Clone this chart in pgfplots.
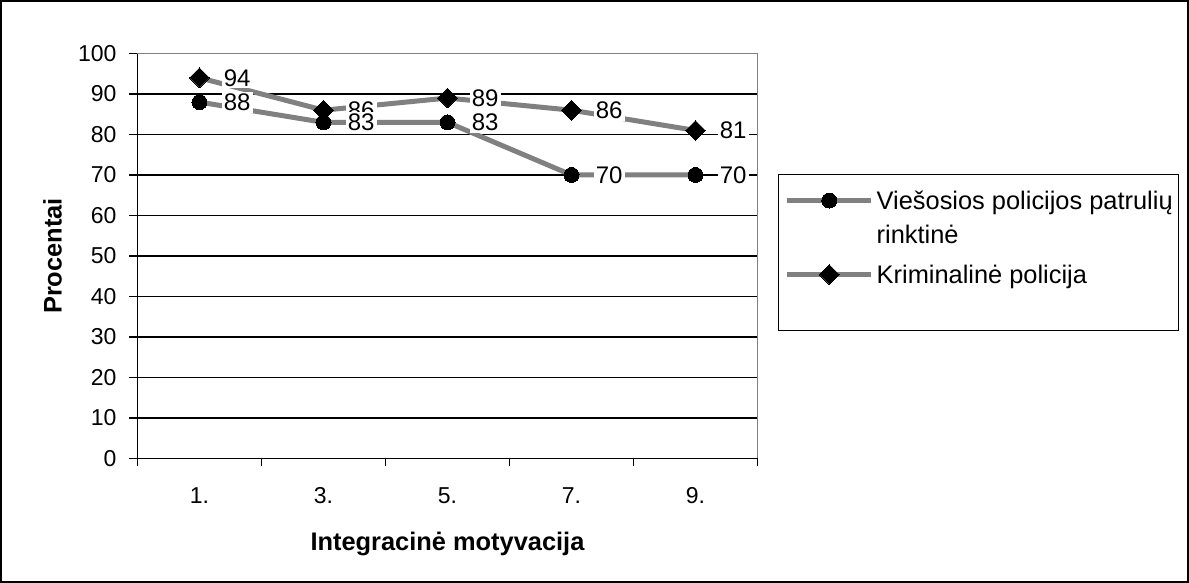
\documentclass[border=0pt]{standalone}
\usepackage{pgfplots}
\pgfplotsset{compat=1.18}
\usepackage{fontspec}
\setmainfont{Liberation Sans}
\definecolor{linegray}{RGB}{128,128,128}
\begin{document}
\begin{tikzpicture}
\useasboundingbox (0,0) rectangle (594.5pt,291.5pt);
\draw[line width=1.2pt] (0.6pt,0.6pt) rectangle (593.9pt,290.9pt);
\begin{axis}[
  at={(68.75pt,62.25pt)}, anchor=south west,
  scale only axis, width=310pt, height=202.5pt,
  xmin=0.5, xmax=5.5, ymin=0, ymax=100,
  clip=false,
  axis x line*=bottom, axis y line*=left,
  axis line style={black, line width=0.75pt, -},
  xtick={1,2,3,4,5}, xticklabels={1.,3.,5.,7.,9.},
  minor xtick={0.5,1.5,2.5,3.5,4.5,5.5},
  ytick={0,10,...,100},
  tick align=outside,
  major tick length=4pt, minor tick length=4pt,
  every tick/.style={black, line width=0.75pt},
  major x tick style={draw=none},
  ymajorgrids, major grid style={black, line width=0.75pt},
  /pgf/number format/assume math mode=true,
  tick label style={font=\fontsize{11.5}{13}\selectfont},
  yticklabel style={xshift=-3pt},
  xticklabel style={yshift=-7pt},
  xlabel={Integracinė motyvacija}, ylabel={Procentai},
  label style={font=\bfseries\fontsize{12.7}{15}\selectfont},
  xlabel style={at={(axis description cs:0.5,-0.212)}, anchor=center},
  ylabel style={at={(axis description cs:-0.137,0.5)}, anchor=center},
  legend style={at={(1.033,0.703)}, anchor=north west, draw=black, line width=0.75pt,
    inner xsep=3pt, inner ysep=6.5pt, column sep=1.5pt, row sep=0pt,
    font=\fontsize{12.7}{15}\selectfont, cells={anchor=base west}, nodes={inner sep=0pt}},
  after end axis/.code={\draw[linegray, line width=0.75pt] (rel axis cs:0,1) -- (rel axis cs:1,1) -- (rel axis cs:1,0);},
]
\addplot[color=linegray, line width=2.5pt, mark=*, mark size=3.75pt,
  mark options={fill=black, draw=black, line width=0pt},
  legend image code/.code={\path[draw=none,fill=none] (0pt,-4pt) rectangle (42pt,11pt);
    \draw[mark repeat=2,mark phase=2,yshift=4.5pt] plot coordinates {(0pt,0pt)(21pt,0pt)(42pt,0pt)};}]
  coordinates {(1,88)(2,83)(3,83)(4,70)(5,70)};
\addlegendentry{Viešosios policijos patrulių}
\addlegendimage{legend image code/.code={\path[draw=none,fill=none] (0pt,-9pt) rectangle (42pt,13pt);}}
\addlegendentry{rinktinė}
\addplot[color=linegray, line width=2.5pt, mark=square*, mark size=3.5pt,
  mark options={fill=black, draw=black, line width=0pt, rotate=45},
  legend image code/.code={\path[draw=none,fill=none] (0pt,-17pt) rectangle (42pt,11pt);
    \draw[mark repeat=2,mark phase=2,yshift=4.5pt] plot coordinates {(0pt,0pt)(21pt,0pt)(42pt,0pt)};}]
  coordinates {(1,94)(2,86)(3,89)(4,86)(5,81)};
\addlegendentry{Kriminalinė policija}
\addplot[draw=none, mark=none, forget plot, nodes near coords,
  every node near coord/.append style={anchor=west, fill=white, inner sep=1pt, xshift=11pt,
    font=\fontsize{12}{14}\selectfont, text=black}]
  coordinates {(1,94)(2,86)(3,89)(4,86)(5,81)};
\addplot[draw=none, mark=none, forget plot, nodes near coords,
  every node near coord/.append style={anchor=west, fill=white, inner sep=1pt, xshift=11pt,
    font=\fontsize{12}{14}\selectfont, text=black}]
  coordinates {(1,88)(2,83)(3,83)(4,70)(5,70)};
\end{axis}
\end{tikzpicture}
\end{document}
